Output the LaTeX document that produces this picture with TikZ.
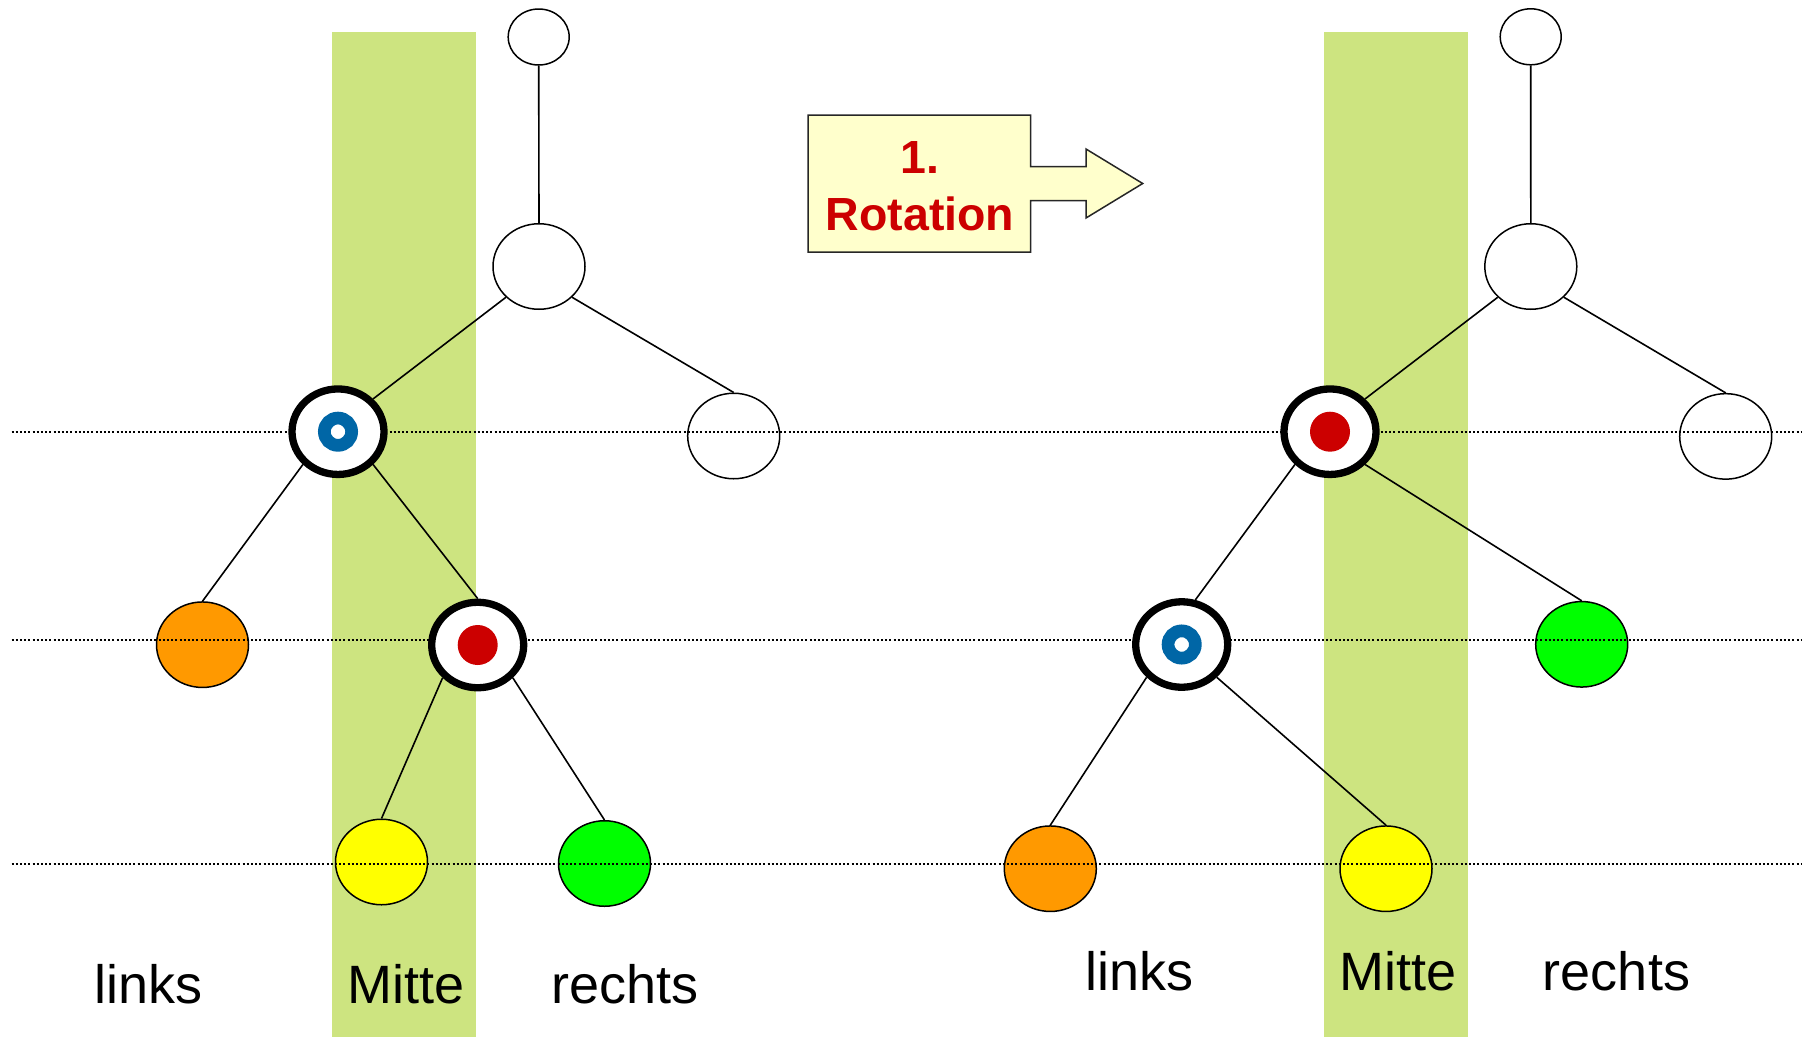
\documentclass[tikz,border=0pt]{standalone}
\usepackage{fontspec}
\setmainfont{Liberation Sans}
\usetikzlibrary{shapes.geometric}
\definecolor{bandc}{RGB}{205,228,128}
\definecolor{orangec}{RGB}{255,153,0}
\definecolor{greenc}{RGB}{0,255,0}
\definecolor{yellowc}{RGB}{255,255,0}
\definecolor{redc}{RGB}{204,0,0}
\definecolor{bluec}{RGB}{0,102,166}
\definecolor{boxc}{RGB}{255,255,204}
\begin{document}
\begin{tikzpicture}[x=1pt,y=-1pt,
  big/.style={ellipse, draw=black, line width=1.5pt, minimum width=92pt, minimum height=85.5pt, inner sep=0pt, fill=white},
  small/.style={big, minimum width=61pt, minimum height=56pt},
  heavy/.style={big, line width=7.3pt},
  conn/.style={line width=1.6pt},
  dotline/.style={line width=1.9pt, dash pattern=on 2pt off 2.2pt},
  lbl/.style={anchor=base, inner sep=0pt, font=\fontsize{54}{64}\selectfont},
  rotlbl/.style={anchor=base, inner sep=0pt, text=redc, font=\bfseries\fontsize{46.5}{55}\selectfont}
]
\useasboundingbox (0,0) rectangle (1808,1037);
% green bands
\fill[bandc] (332,32) rectangle (476,1037);
\fill[bandc] (1324,32) rectangle (1468,1037);

% thin nodes, left tree
\node[small] (L0) at (538.7,37) {};
\node[big] (L1) at (539,266.5) {};
\node[big] (L3) at (733.7,436) {};
\node[big, fill=orangec] (L4) at (202.5,644.7) {};
\node[big, fill=yellowc] (L6) at (381.5,862) {};
\node[big, fill=greenc] (L7) at (604.5,863.5) {};

% thin nodes, right tree
\node[small] (R0) at (1530.7,36.8) {};
\node[big] (R1) at (1530.8,266.5) {};
\node[big] (R3) at (1725.7,436.4) {};
\node[big, fill=greenc] (R5) at (1581.7,644.3) {};
\node[big, fill=orangec] (R6) at (1050.3,868.7) {};
\node[big, fill=yellowc] (R7) at (1386,868.7) {};

% dotted level lines
\draw[dotline] (11.5,431.7) -- (1801,431.7);
\draw[dotline] (11.5,640) -- (1801,640);
\draw[dotline] (11.5,864) -- (1801,864);

% heavy nodes
\node[heavy] (L2) at (338,431.7) {};
\node[heavy] (L5) at (477.7,645) {};
\node[heavy] (R2) at (1330,431.7) {};
\node[heavy] (R4) at (1181.7,644.5) {};
\draw[bluec, line width=12.7pt] (L2.center) circle[radius=13.65pt];
\fill[redc] (L5.center) circle[radius=20pt];
\fill[redc] (R2.center) circle[radius=20pt];
\draw[bluec, line width=12.7pt] (R4.center) circle[radius=13.65pt];

% edges left tree
\draw[conn] (L0.south) -- (L1.north);
\draw[conn] (L1.south west) -- (L2.north east);
\draw[conn] (L1.south east) -- (L3.north);
\draw[conn] (L2.south west) -- (L4.north);
\draw[conn] (L2.south east) -- (L5.north);
\draw[conn] (L5.south west) -- (L6.north);
\draw[conn] (L5.south east) -- (L7.north);

% edges right tree
\draw[conn] (R0.south) -- (R1.north);
\draw[conn] (R1.south west) -- (R2.north east);
\draw[conn] (R1.south east) -- (R3.north);
\draw[conn] (R2.south west) -- (R4.73);
\draw[conn] (R2.south east) -- (R5.north);
\draw[conn] (R4.south west) -- (R6.north);
\draw[conn] (R4.south east) -- (R7.north);

% rotation arrow box
\draw[fill=boxc, line width=1.5pt, draw=black!85]
  (808,115) -- (1030.7,115) -- (1030.7,166.5) -- (1086,166.5) -- (1086,149)
  -- (1142.7,183.5) -- (1086,218) -- (1086,200.5) -- (1030.7,200.5)
  -- (1030.7,252) -- (808,252) -- cycle;
\node[rotlbl] (rot1) at (920,173.3) {1.};
\node[rotlbl] (rot2) at (920,230) {Rotation};

% labels
\node[lbl] (tl1) at (149,1003) {links};
\node[lbl] (tm1) at (406,1003) {Mitte};
\node[lbl] (tr1) at (625,1003) {rechts};
\node[lbl] (tl2) at (1140,990) {links};
\node[lbl] (tm2) at (1398,990) {Mitte};
\node[lbl] (tr2) at (1616.5,990) {rechts};
\end{tikzpicture}
\end{document}
